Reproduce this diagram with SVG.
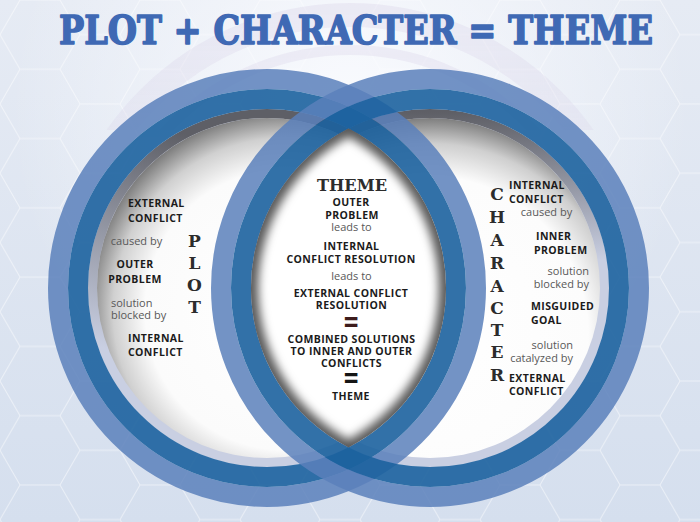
<svg xmlns="http://www.w3.org/2000/svg" width="700" height="522" viewBox="0 0 700 522">
<defs>
<style>
.b{font-family:"Open Sans","Liberation Sans",sans-serif;font-weight:700;font-size:10.5px;letter-spacing:0.4px;fill:#1b1b1b}
.r{font-family:"Open Sans","Liberation Sans",sans-serif;font-weight:400;font-size:11px;fill:#585858}
.s{font-family:"DejaVu Serif","Liberation Serif",serif;font-weight:700;font-size:17px;fill:#2c2c2c;text-anchor:middle}
.m{text-anchor:middle}
.e{text-anchor:end}
.eq{font-family:"DejaVu Sans","Liberation Sans",sans-serif;font-weight:700;font-size:20px;text-anchor:middle}
.lt{fill:none;stroke:#5a80bb;stroke-width:20;opacity:0.85}
.dk{fill:none;stroke:#1c629e;stroke-width:20;opacity:0.9}
</style>
<linearGradient id="bg" x1="0" y1="0" x2="0" y2="1"><stop offset="0" stop-color="#e6ebf4"/><stop offset="1" stop-color="#d5dfee"/></linearGradient>
<radialGradient id="glow" cx="350" cy="110" r="340" gradientUnits="userSpaceOnUse"><stop offset="0" stop-color="#fbfcff" stop-opacity="0.95"/><stop offset="1" stop-color="#fbfcff" stop-opacity="0"/></radialGradient>
<pattern id="hex" width="120" height="69.28" patternUnits="userSpaceOnUse"><path d="M0,34.64 L20,0 L60,0 L80,34.64 L60,69.28 L20,69.28 Z M80,34.64 L120,34.64" fill="none" stroke="#ffffff" stroke-width="1" opacity="0.5"/></pattern>
<radialGradient id="inL" gradientUnits="userSpaceOnUse" cx="285" cy="310" r="200"><stop offset="0" stop-color="#ffffff"/><stop offset="0.7" stop-color="#fbfbfb"/><stop offset="0.86" stop-color="#d0d0d0"/><stop offset="1" stop-color="#767676"/></radialGradient>
<radialGradient id="inR" gradientUnits="userSpaceOnUse" cx="430" cy="335" r="220"><stop offset="0" stop-color="#ffffff"/><stop offset="0.72" stop-color="#fcfcfc"/><stop offset="0.87" stop-color="#cfcfcf"/><stop offset="1" stop-color="#747474"/></radialGradient>
<linearGradient id="bandL" gradientUnits="userSpaceOnUse" x1="170" y1="130" x2="110" y2="350"><stop offset="0" stop-color="#5e5f66"/><stop offset="1" stop-color="#c9cfe2"/></linearGradient>
<linearGradient id="bandR" gradientUnits="userSpaceOnUse" x1="430" y1="112" x2="430" y2="260"><stop offset="0" stop-color="#5e5f66"/><stop offset="1" stop-color="#c9cfe2"/></linearGradient>
<linearGradient id="arcFade" x1="0" y1="0" x2="0" y2="1"><stop offset="0" stop-color="#d6cfe6" stop-opacity="0.5"/><stop offset="1" stop-color="#d6cfe6" stop-opacity="0"/></linearGradient>
<clipPath id="lensClip"><path d="M348.5 128.6 A179 179 0 0 1 348.5 447.4 A179 179 0 0 1 348.5 128.6 Z"/></clipPath>
<clipPath id="topClip"><rect x="0" y="0" width="700" height="130"/></clipPath>
<filter id="soft" x="-20%" y="-20%" width="140%" height="140%"><feGaussianBlur stdDeviation="5"/></filter>
</defs>

<g id="background">
<rect width="700" height="522" fill="url(#bg)"/>
<rect width="700" height="522" fill="url(#hex)"/>
<rect width="700" height="522" fill="url(#glow)"/>
<g clip-path="url(#topClip)" opacity="0.6">
<circle cx="350" cy="300" r="285" fill="none" stroke="url(#arcFade)" stroke-width="24"/>
<circle cx="350" cy="300" r="250" fill="none" stroke="url(#arcFade)" stroke-width="10"/>
</g>
</g>

<g id="plot-circle-fill">
<circle cx="267" cy="288" r="179" fill="#c9cfe2"/>
<circle cx="267" cy="288" r="174.5" fill="none" stroke="url(#bandL)" stroke-width="9"/>
<circle cx="267" cy="288" r="170" fill="url(#inL)"/>
</g>
<g id="character-circle-fill">
<circle cx="430" cy="288" r="179" fill="#c9cfe2"/>
<circle cx="430" cy="288" r="174.5" fill="none" stroke="url(#bandR)" stroke-width="9"/>
<circle cx="430" cy="288" r="170" fill="url(#inR)"/>
</g>
<g id="rings">
<circle class="lt" cx="267" cy="288" r="209"/>
<circle class="dk" cx="267" cy="288" r="189"/>
<circle class="lt" cx="430" cy="288" r="209"/>
<circle class="dk" cx="430" cy="288" r="189"/>
</g>

<g id="theme-lens">
<path d="M348.5 128.6 A179 179 0 0 1 348.5 447.4 A179 179 0 0 1 348.5 128.6 Z" fill="#5a5a5a"/>
<g clip-path="url(#lensClip)">
<path d="M348.5 137 A172 172 0 0 1 348.5 439.5 A172 172 0 0 1 348.5 137 Z" fill="#ffffff" filter="url(#soft)"/>
</g>
<text class="s" x="352" y="191" font-size="16" textLength="70" lengthAdjust="spacingAndGlyphs">THEME</text>
<text class="b m" x="351" y="206">OUTER</text>
<text class="b m" x="352" y="219">PROBLEM</text>
<text class="r m" x="351.5" y="231">leads to</text>
<text class="b m" x="351.5" y="250">INTERNAL</text>
<text class="b m" x="351" y="263">CONFLICT RESOLUTION</text>
<text class="r m" x="351.5" y="280">leads to</text>
<text class="b m" x="351" y="297">EXTERNAL CONFLICT</text>
<text class="b m" x="351.5" y="309">RESOLUTION</text>
<text class="eq" transform="translate(351,331) scale(1,1.4)" fill="#3d1c1c">=</text>
<text class="b m" x="351.5" y="343">COMBINED SOLUTIONS</text>
<text class="b m" x="351.5" y="355">TO INNER AND OUTER</text>
<text class="b m" x="351.5" y="367">CONFLICTS</text>
<text class="eq" transform="translate(351,387) scale(1,1.4)" fill="#151515">=</text>
<text class="b m" x="351" y="400">THEME</text>
</g>

<g id="plot-circle">
<text class="b" x="128" y="207">EXTERNAL</text>
<text class="b" x="128" y="222">CONFLICT</text>
<text class="r m" x="136.5" y="245">caused by</text>
<text class="b m" x="135" y="268">OUTER</text>
<text class="b m" x="135" y="283">PROBLEM</text>
<text class="r" x="111" y="307">solution</text>
<text class="r" x="111" y="319">blocked by</text>
<text class="b" x="128" y="342">INTERNAL</text>
<text class="b" x="128" y="356">CONFLICT</text>
<text class="s" x="194.5" y="247">P</text>
<text class="s" x="194.5" y="269">L</text>
<text class="s" x="194.5" y="291">O</text>
<text class="s" x="194.5" y="313">T</text>
</g>

<g id="character-circle">
<text class="b" x="509" y="189">INTERNAL</text>
<text class="b" x="509" y="203">CONFLICT</text>
<text class="r m" x="546.5" y="216">caused by</text>
<text class="b" x="536" y="240">INNER</text>
<text class="b" x="534" y="254">PROBLEM</text>
<text class="r e" x="589" y="275">solution</text>
<text class="r e" x="589" y="288">blocked by</text>
<text class="b" x="531" y="310">MISGUIDED</text>
<text class="b" x="531" y="324">GOAL</text>
<text class="r e" x="573" y="349">solution</text>
<text class="r e" x="573" y="362">catalyzed by</text>
<text class="b" x="509" y="382">EXTERNAL</text>
<text class="b" x="509" y="395">CONFLICT</text>
<text class="s" x="497" y="200">C</text>
<text class="s" x="497" y="223">H</text>
<text class="s" x="497" y="246">A</text>
<text class="s" x="497" y="269">R</text>
<text class="s" x="497" y="292">A</text>
<text class="s" x="497" y="314">C</text>
<text class="s" x="497" y="336">T</text>
<text class="s" x="497" y="358">E</text>
<text class="s" x="497" y="381">R</text>
</g>

<g id="title">
<text x="59" y="44" font-family="'DejaVu Serif','Liberation Serif',serif" font-weight="700" font-size="40" fill="#3f69b4" stroke="#3f69b4" stroke-width="1.6" stroke-linejoin="round" textLength="594" lengthAdjust="spacingAndGlyphs">PLOT + CHARACTER = THEME</text>
</g>
</svg>
